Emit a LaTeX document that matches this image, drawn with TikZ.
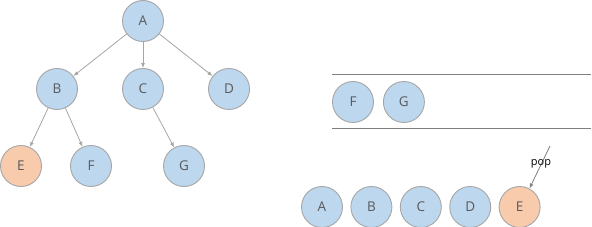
\documentclass[tikz,border=0pt]{standalone}
\usepackage{fontspec}
\setmainfont{Open Sans}
\usetikzlibrary{arrows.meta, positioning}
\definecolor{NodeBlue}{HTML}{BDD7EE}
\definecolor{NodeOrange}{HTML}{F8CBAD}
\definecolor{EdgeGray}{HTML}{A6A6A6}
\definecolor{TextGray}{HTML}{595959}
\definecolor{LineGray}{HTML}{7F7F7F}
\tikzset{
  vertex/.style={circle, draw=EdgeGray, line width=0.9pt, fill=NodeBlue, minimum size=41pt, inner sep=0pt, text=TextGray, font=\fontsize{13.5}{13.5}\selectfont},
  visited/.style={vertex, fill=NodeOrange},
  treearrow/.style={-{Latex[length=5pt, width=4pt]}, line width=0.8pt, draw=EdgeGray},
  poparrow/.style={-{Latex[length=5pt, width=4pt]}, line width=0.8pt, draw=LineGray},
  queueline/.style={line width=1pt, draw=LineGray}
}
\begin{document}
\begin{tikzpicture}[x=1pt, y=-1pt]
\useasboundingbox (0,0) rectangle (592,227);
% tree
\node[vertex] (tA) at (143,21) {A};
\node[vertex] (tB) at (57,89) {B};
\node[vertex] (tC) at (143,89) {C};
\node[vertex] (tD) at (229,89) {D};
\node[visited] (tE) at (21,166) {E};
\node[vertex] (tF) at (91,166) {F};
\node[vertex] (tG) at (184,166) {G};
\draw[treearrow] (tA) -- (tB);
\draw[treearrow] (tA) -- (tC);
\draw[treearrow] (tA) -- (tD);
\draw[treearrow] (tB) -- (tE);
\draw[treearrow] (tB) -- (tF);
\draw[treearrow] (tC) -- (tG);
% queue
\coordinate (qtl) at (332,75);
\coordinate (qtr) at (591,75);
\coordinate (qbl) at (332,129);
\coordinate (qbr) at (591,129);
\draw[queueline] (qtl) -- (qtr);
\draw[queueline] (qbl) -- (qbr);
\node[vertex] (qF) at (353,102) {F};
\node[vertex, right=9pt of qF] (qG) {G};
% output order
\node[vertex] (oA) at (322,207) {A};
\node[vertex, right=7.5pt of oA] (oB) {B};
\node[vertex, right=7.5pt of oB] (oC) {C};
\node[vertex, right=7.5pt of oC] (oD) {D};
\node[visited, right=7.5pt of oD] (oE) {E};
\coordinate (popstart) at (550,146);
\draw[poparrow] (popstart) -- (oE.62);
\node[font=\fontsize{11}{11}\selectfont, text=black] (poplabel) at (541,164) {pop};
\end{tikzpicture}
\end{document}
